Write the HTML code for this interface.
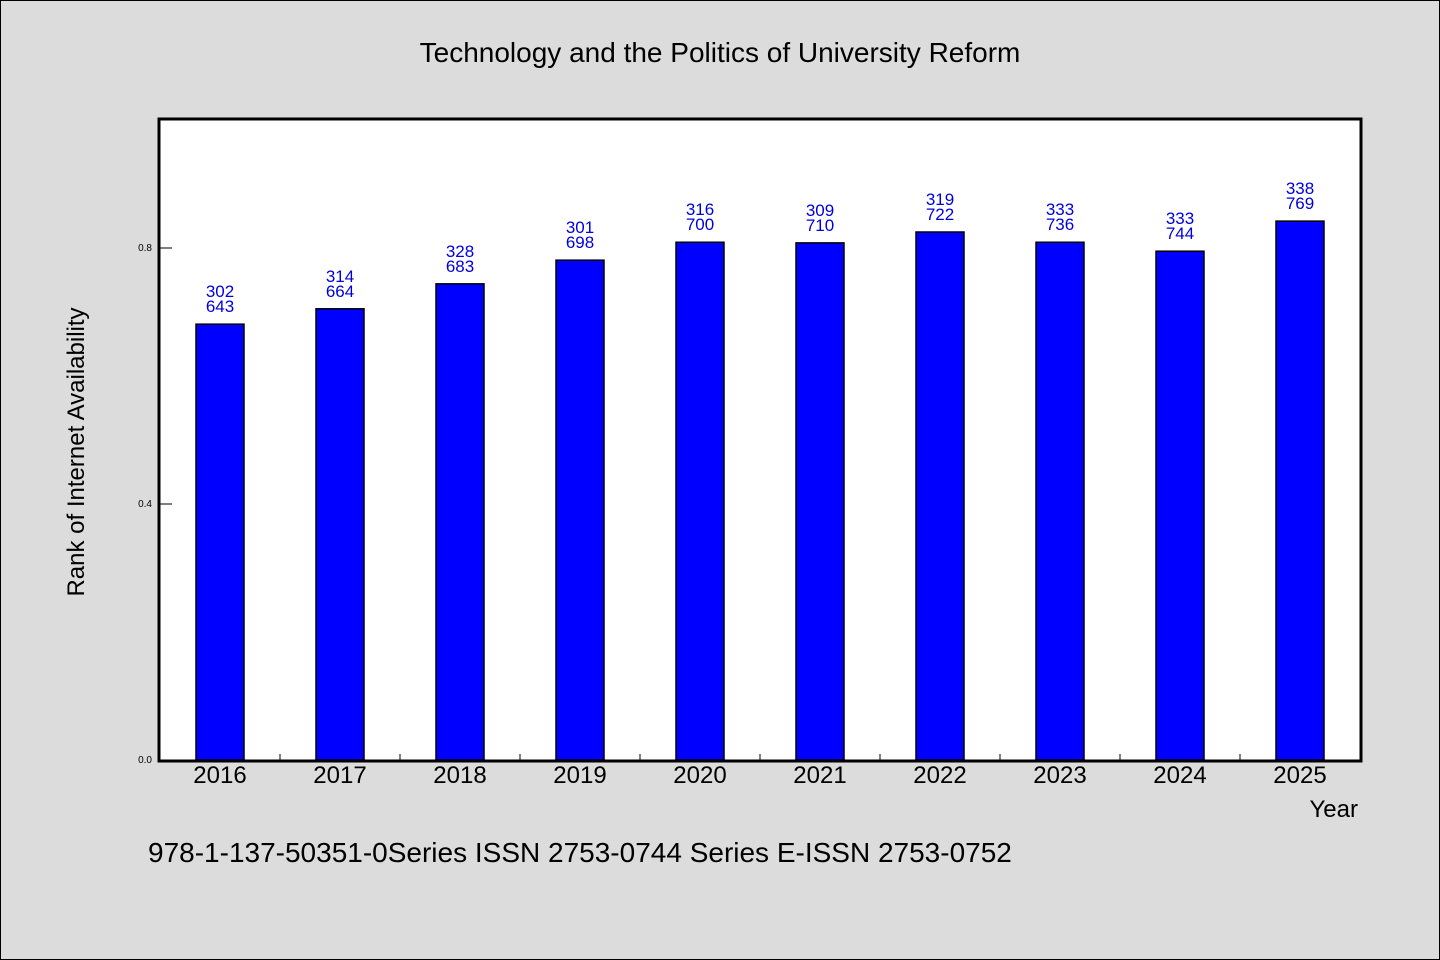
<!DOCTYPE html>
<html><head><meta charset="utf-8"><style>
html,body{margin:0;padding:0;background:#dcdcdc;}
svg{display:block;}
text{font-family:"WenQuanYi Zen Hei","Liberation Sans",sans-serif;}
</style></head><body>
<svg id="chart" width="1440" height="960" xmlns="http://www.w3.org/2000/svg">
<rect x="0.5" y="0.5" width="1439" height="959" fill="#dcdcdc" stroke="#000" stroke-width="1"/>
<text x="720" y="62" text-anchor="middle" font-size="28">Technology and the Politics of University Reform</text>
<rect x="159" y="119" width="1202" height="642" fill="#fff"/>
<g id="bars"></g>
<g id="axes"></g>
<rect x="159" y="119" width="1202" height="642" fill="none" stroke="#000" stroke-width="3"/>
<text transform="translate(84,452) rotate(-90)" text-anchor="middle" font-size="24">Rank of Internet Availability</text>
<text x="1358" y="817" text-anchor="end" font-size="24">Year</text>
<text x="148" y="862" font-size="28">978-1-137-50351-0Series ISSN 2753-0744 Series E-ISSN 2753-0752</text>
</svg>
<script>
const categories = ["2016","2017","2018","2019","2020","2021","2022","2023","2024","2025"];
const values = [0.681,0.705,0.744,0.781,0.809,0.808,0.825,0.809,0.795,0.842];
const topLabels = ["302","314","328","301","316","309","319","333","333","338"];
const bottomLabels = ["643","664","683","698","700","710","722","736","744","769"];
const yTicks = [0.0,0.4,0.8];
const yTickLabels = ["0.0","0.4","0.8"];

const NS="http://www.w3.org/2000/svg";
const X0=160, SLOT=120, Y0=760, YSCALE=640, BW=48;
function xCenter(i){return X0+SLOT*i+SLOT/2;}
function yPos(v){return Y0-v*YSCALE;}
function mk(tag,attrs){const e=document.createElementNS(NS,tag);for(const k in attrs)e.setAttribute(k,attrs[k]);return e;}
const bars=document.getElementById('bars'), axes=document.getElementById('axes');
categories.forEach((c,i)=>{
  const cx=xCenter(i), y=yPos(values[i]);
  const r=mk('rect',{x:cx-BW/2,y:y,width:BW,height:Y0-y,fill:'#0000ff',stroke:'#000','stroke-width':1.5});
  
  
  bars.appendChild(r);
  const t1=mk('text',{x:cx,y:y-27,'text-anchor':'middle','font-size':17,fill:'#0000dd'});
  t1.textContent=topLabels[i];
  
  
  bars.appendChild(t1);
  const t2=mk('text',{x:cx,y:y-12,'text-anchor':'middle','font-size':17,fill:'#0000dd'});
  t2.textContent=bottomLabels[i];
  
  
  bars.appendChild(t2);
  const xl=mk('text',{x:cx,y:783,'text-anchor':'middle','font-size':24,fill:'#000'});
  xl.textContent=c;
  
  
  axes.appendChild(xl);
  if(i>0){
    const tk=mk('line',{x1:X0+SLOT*i,x2:X0+SLOT*i,y1:Y0,y2:Y0-6,stroke:'#000','stroke-width':1});
    
    
    axes.appendChild(tk);
  }
});
yTicks.forEach((v,i)=>{
  const y=yPos(v);
  const tk=mk('line',{x1:159,x2:172,y1:y,y2:y,stroke:'#000','stroke-width':1});
  
  
  axes.appendChild(tk);
  const tl=mk('text',{x:152,y:y+3,'text-anchor':'end','font-size':10,fill:'#000'});
  tl.textContent=yTickLabels[i];
  
  
  axes.appendChild(tl);
});
</script>
</body></html>
